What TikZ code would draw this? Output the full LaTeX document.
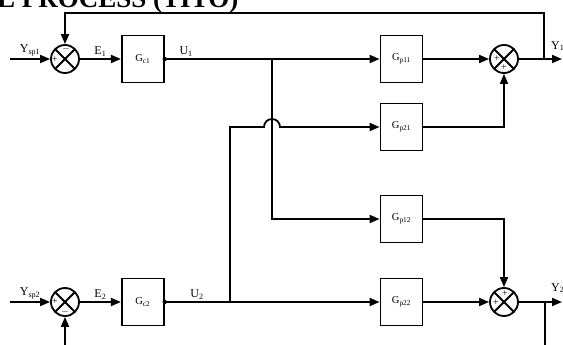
\documentclass[tikz,border=0pt]{standalone}
\usepackage{fontspec}
\setmainfont{Liberation Serif}
\usetikzlibrary{arrows.meta,positioning}

\begin{document}
\begin{tikzpicture}[
    x=1pt, y=-1pt,
    node distance=21pt and 41pt,
    blocknode/.style={draw, line width=1.8pt, minimum width=42pt, minimum height=47pt, inner sep=0pt, font=\fontsize{10.5}{12}\selectfont},
    sumnode/.style={draw, circle, line width=1.8pt, minimum size=28pt, inner sep=0pt,
        path picture={\draw[line width=1.8pt] (path picture bounding box.north west) -- (path picture bounding box.south east)
            (path picture bounding box.north east) -- (path picture bounding box.south west);}},
    myedge/.style={-{Triangle[length=10pt,width=8pt]}, line width=1.8pt},
    myline/.style={line width=1.8pt},
    siglabel/.style={font=\fontsize{12}{14}\selectfont, inner sep=2pt},
    signlabel/.style={font=\fontsize{10}{10}\selectfont, inner sep=0pt}
]
\useasboundingbox (0,0) rectangle (563,345);
\node[anchor=base west, font=\bfseries\fontsize{27}{27}\selectfont, inner sep=0pt] (title) at (-3,8) {L PROCESS (TITO)};

\node[sumnode] (S1) at (65,59) {};
\node[blocknode, right=41pt of S1] (Gc1) {G\textsubscript{c1}};
\node[blocknode] (Gp11) at (401.5,59) {G\textsubscript{p11}};
\node[blocknode] (Gp21) at (401.5,127) {G\textsubscript{p21}};
\node[sumnode] (S3) at (504,59) {};

\node[sumnode] (S2) at (65,302) {};
\node[blocknode, right=41pt of S2] (Gc2) {G\textsubscript{c2}};
\node[blocknode] (Gp12) at (401.5,219) {G\textsubscript{p12}};
\node[blocknode] (Gp22) at (401.5,302) {G\textsubscript{p22}};
\node[sumnode] (S4) at (504,302) {};

\coordinate (In1) at (10,59);
\coordinate (In2) at (10,302);
\coordinate (J1) at (272,59);
\coordinate (J2) at (230,302);
\coordinate (FB1) at (544,59);
\coordinate (FB2) at (545,302);
\coordinate (Out1) at (562,59);
\coordinate (Out2) at (562,302);
\coordinate (T1) at (65,13);
\coordinate (B1) at (545,350);
\coordinate (B2) at (65,350);

\draw[myedge] (In1) -- (S1) node[siglabel, midway, above] {Y\textsubscript{sp1}};
\draw[myedge] (S1) -- (Gc1) node[siglabel, midway, above] {E\textsubscript{1}};
\draw[myline] (Gc1) -- (J1) node[siglabel, pos=0.2, above] {U\textsubscript{1}};
\fill (Gc1.east) circle (2.2pt);
\draw[myedge] (J1) -- (Gp11);
\draw[myedge] (J1) |- (Gp12);
\draw[myedge] (Gp11) -- (S3);
\draw[myedge] (Gp21) -| (S3);
\draw[myedge] (S3) -- (Out1);
\draw[myedge] (FB1) |- (T1) -- (S1);
\node[siglabel, anchor=west] (Y1) at (549,46) {Y\textsubscript{1}};

\draw[myedge] (In2) -- (S2) node[siglabel, midway, above] {Y\textsubscript{sp2}};
\draw[myedge] (S2) -- (Gc2) node[siglabel, midway, above] {E\textsubscript{2}};
\draw[myedge] (Gc2) -- (Gp22) node[siglabel, pos=0.15, above] {U\textsubscript{2}};
\fill (Gc2.east) circle (2.2pt);
\draw[myedge] (J2) -- (J2 |- Gp21) -- ++(34,0) arc[start angle=180, end angle=0, radius=8pt] -- (Gp21);
\draw[myedge] (Gp12) -| (S4);
\draw[myedge] (Gp22) -- (S4);
\draw[myedge] (S4) -- (Out2);
\draw[myline] (FB2) -- (B1);
\draw[myedge] (B2) -- (S2);
\node[siglabel, anchor=west] (Y2) at (549,288) {Y\textsubscript{2}};

\node[signlabel] at (66,49) {$-$};
\node[signlabel] at (55,60) {+};
\node[signlabel] at (55,302) {+};
\node[signlabel] at (65,312) {$-$};
\node[signlabel] at (497,59) {+};
\node[signlabel] at (504,68) {+};
\node[signlabel] at (496,303) {+};
\node[signlabel] at (505,294) {+};
\end{tikzpicture}
\end{document}
